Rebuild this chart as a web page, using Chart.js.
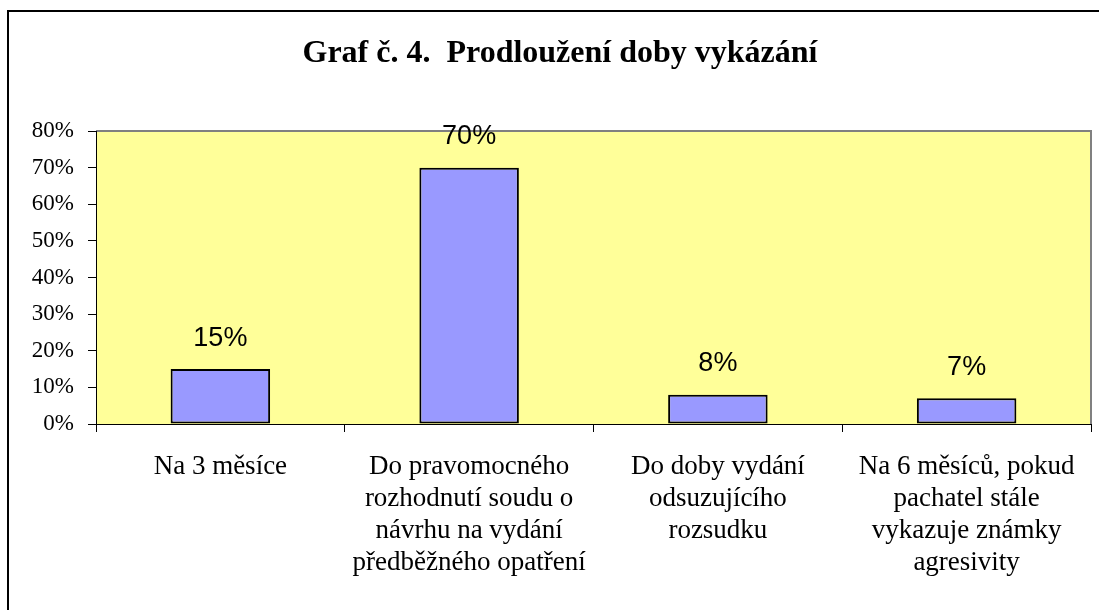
<!DOCTYPE html>
<html>
<head>
<meta charset="utf-8">
<title>Graf č. 4</title>
<script src="https://cdn.jsdelivr.net/npm/chart.js@4.4.0/dist/chart.umd.min.js"></script>
<style>
  html, body { margin: 0; padding: 0; background: #fff; }
  #wrap { width: 1099px; height: 610px; }
</style>
</head>
<body>
<div id="wrap"><canvas id="chartVykazani"></canvas></div>
<script>
  // data
  var categories = [
    ["Na 3 měsíce"],
    ["Do pravomocného", "rozhodnutí soudu o", "návrhu na vydání", "předběžného opatření"],
    ["Do doby vydání", "odsuzujícího", "rozsudku"],
    ["Na 6 měsíců, pokud", "pachatel stále", "vykazuje známky", "agresivity"]
  ];
  var values = [15, 70, 8, 7];
  var yTicks = [0, 10, 20, 30, 40, 50, 60, 70, 80];

  var serif = "'Liberation Serif', 'Times New Roman', serif";
  var sans = "'Liberation Sans', Arial, sans-serif";

  // yellow plot area, grey top/right edge, outer frame
  var plotBackground = {
    id: "plotBackground",
    beforeDraw: function (chart) {
      var ctx = chart.ctx;
      var a = chart.chartArea;
      ctx.save();
      ctx.fillStyle = "#000";
      ctx.fillRect(7, 10, 2, 600);
      ctx.fillRect(7, 10, 1092, 2);

      ctx.fillStyle = "#ffff99";
      ctx.fillRect(a.left, a.top, a.right - a.left, a.bottom - a.top);
      ctx.strokeStyle = "#808080";
      ctx.lineWidth = 2;
      ctx.beginPath();
      ctx.moveTo(a.left, a.top);
      ctx.lineTo(a.right, a.top);
      ctx.lineTo(a.right, a.bottom);
      ctx.stroke();
      ctx.restore();
    }
  };

  // percentage labels above the bars
  var barLabels = {
    id: "barLabels",
    afterDraw: function (chart) {
      var ctx = chart.ctx;
      var meta = chart.getDatasetMeta(0);
      ctx.save();
      ctx.fillStyle = "#000";
      ctx.font = "27px " + sans;
      ctx.textAlign = "center";
      ctx.textBaseline = "middle";
      meta.data.forEach(function (bar, i) {
        ctx.fillText(values[i] + "%", bar.x, bar.y - 31);
      });
      ctx.restore();
    }
  };

  var ctx1 = document.getElementById("chartVykazani").getContext("2d");
  new Chart(ctx1, {
    type: "bar",
    data: {
      labels: categories,
      datasets: [{
        data: values,
        backgroundColor: "#9999ff",
        borderColor: "#000",
        borderWidth: 2,
        borderSkipped: false,
        barPercentage: 0.4,
        categoryPercentage: 1.0
      }]
    },
    options: {
      responsive: true,
      maintainAspectRatio: false,
      animation: false,
      layout: {
        padding: { left: 29, right: 8, top: 0, bottom: 0 }
      },
      plugins: {
        legend: { display: false },
        tooltip: { enabled: false },
        title: {
          display: true,
          text: "Graf č. 4.  Prodloužení doby vykázání",
          color: "#000",
          font: { family: serif, size: 32, weight: "bold" },
          padding: { top: 35, bottom: 57.6 }
        }
      },
      scales: {
        y: {
          min: 0,
          max: 80,
          afterFit: function (scale) { scale.width = 67; },
          afterBuildTicks: function (scale) {
            scale.ticks = yTicks.map(function (v) { return { value: v }; });
          },
          border: { display: true, color: "#000", width: 1 },
          grid: {
            display: true,
            drawOnChartArea: false,
            drawTicks: true,
            tickLength: 8,
            color: "#000"
          },
          ticks: {
            padding: 14,
            color: "#000",
            font: { family: serif, size: 23 },
            callback: function (v) { return v + "%"; }
          }
        },
        x: {
          afterFit: function (scale) { scale.height = 186; },
          border: { display: true, color: "#000", width: 1 },
          grid: {
            display: true,
            offset: true,
            drawOnChartArea: false,
            drawTicks: true,
            tickLength: 8,
            color: "#000"
          },
          ticks: {
            padding: 19,
            color: "#000",
            maxRotation: 0,
            autoSkip: false,
            font: { family: serif, size: 27, lineHeight: 1.185 }
          }
        }
      }
    },
    plugins: [plotBackground, barLabels]
  });
</script>
</body>
</html>
